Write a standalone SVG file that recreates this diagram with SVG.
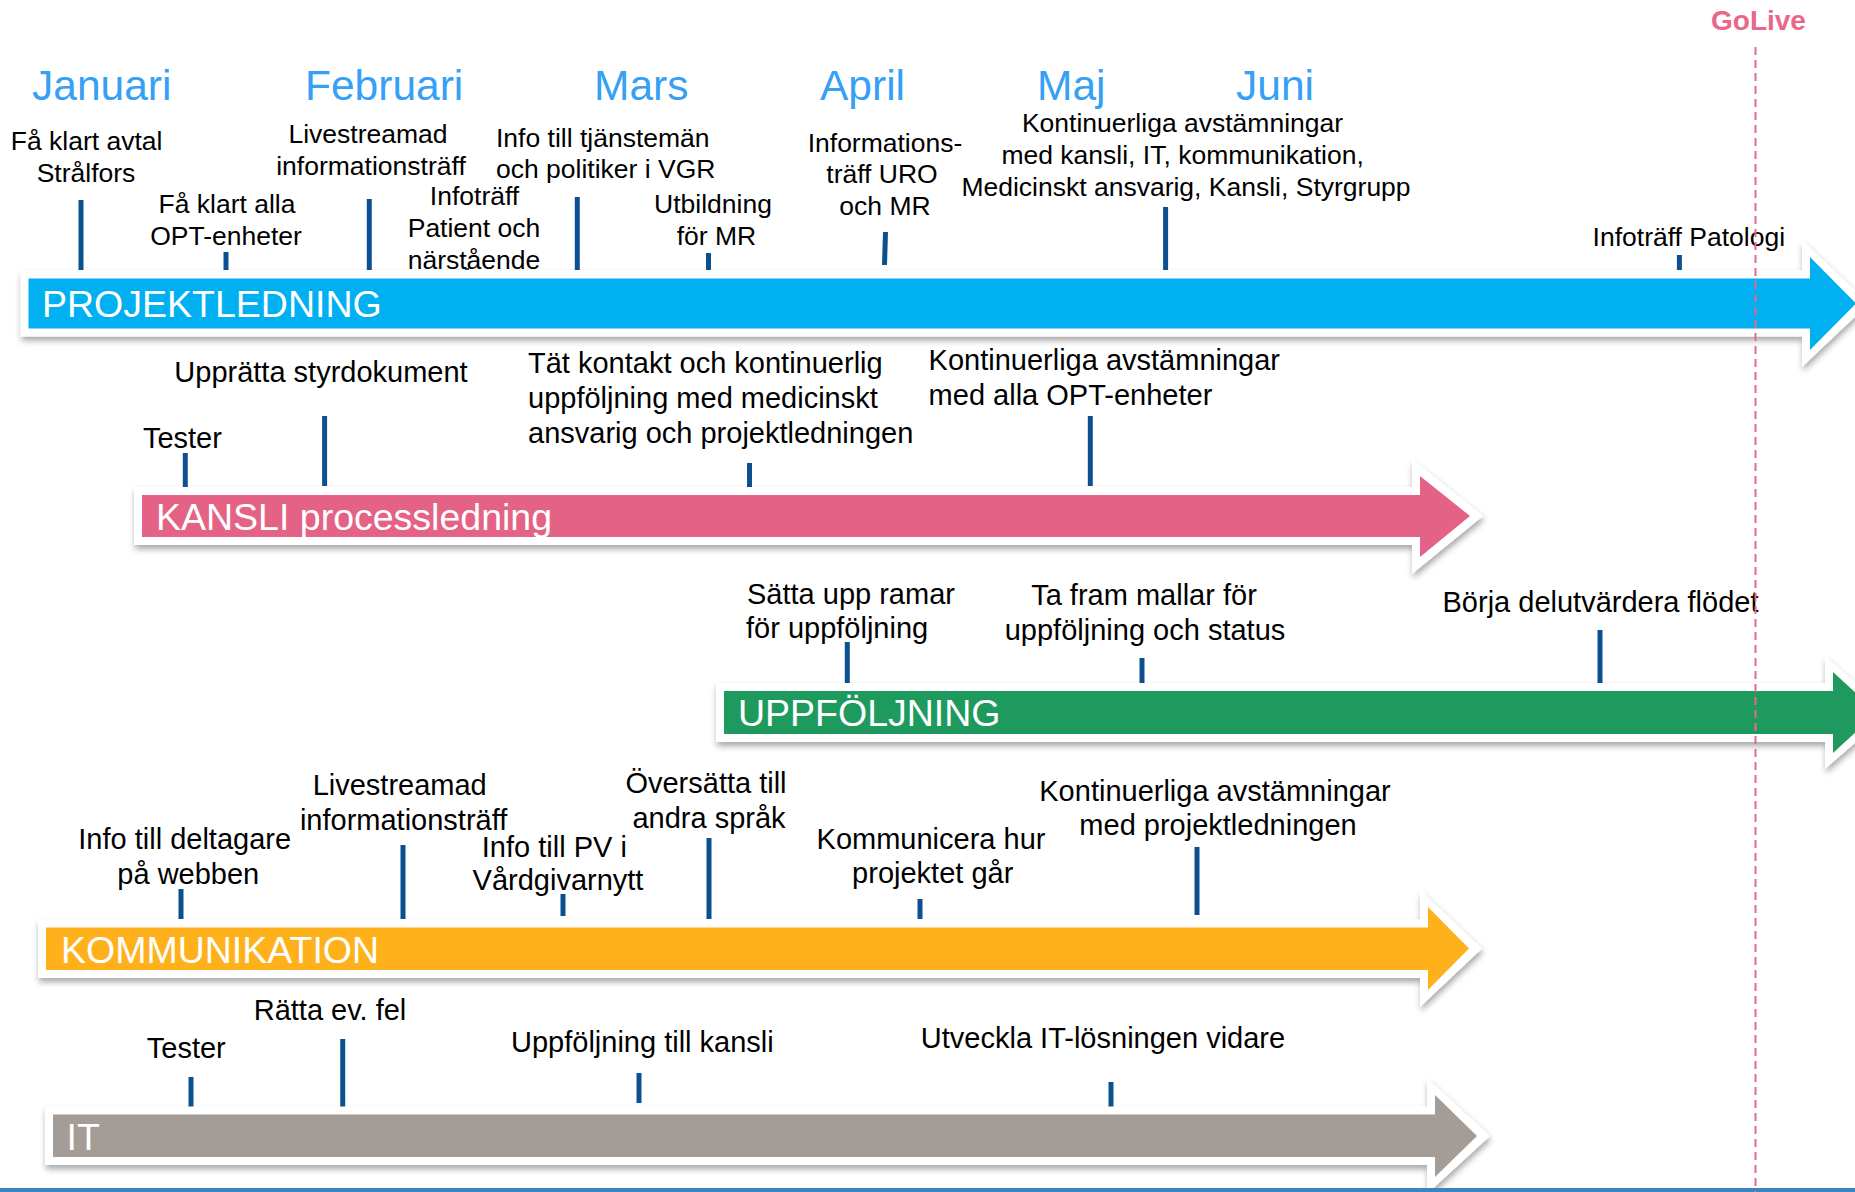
<svg xmlns="http://www.w3.org/2000/svg" width="1855" height="1192" viewBox="0 0 1855 1192">
<defs>
<style>
text{font-family:"Liberation Sans",Arial,sans-serif;fill:#000}
.s26{font-size:26.5px}
.s29{font-size:29px}
.c{text-anchor:middle}
.month{font-size:42.5px;fill:#36a0f5}
.bl{font-size:37.5px;fill:#fff}
.tick{stroke:#0d5091;stroke-width:5}
.outline{fill:#fff;filter:url(#sh)}
</style>
<filter id="sh" x="-5%" y="-30%" width="110%" height="170%">
<feDropShadow dx="1" dy="4" stdDeviation="3" flood-color="#000" flood-opacity="0.35"/>
</filter>
</defs>
<rect width="1855" height="1192" fill="#fff"/>

<g id="months">
<text class="month" x="32" y="100">Januari</text>
<text class="month" x="305" y="100">Februari</text>
<text class="month" x="594" y="100">Mars</text>
<text class="month" x="820" y="100">April</text>
<text class="month" x="1037" y="100">Maj</text>
<text class="month" x="1236" y="100">Juni</text>
</g>

<g id="connectors">
<line class="tick" x1="81" y1="200" x2="81" y2="270"/>
<line class="tick" x1="226" y1="252" x2="226" y2="270"/>
<line class="tick" x1="369.3" y1="199" x2="369.3" y2="270"/>
<line class="tick" x1="467" y1="268" x2="467" y2="270" style="stroke-width:4"/>
<line class="tick" x1="577.3" y1="197" x2="577.3" y2="270"/>
<line class="tick" x1="708.5" y1="253" x2="708.5" y2="270"/>
<line class="tick" x1="885.5" y1="232" x2="884.5" y2="265"/>
<line class="tick" x1="1165.6" y1="207" x2="1165.6" y2="270"/>
<line class="tick" x1="1679.4" y1="255" x2="1679.4" y2="270"/>
<line class="tick" x1="185.3" y1="453" x2="185.3" y2="487"/>
<line class="tick" x1="324.6" y1="416" x2="324.6" y2="486"/>
<line class="tick" x1="749.5" y1="463" x2="749.5" y2="487"/>
<line class="tick" x1="1090.3" y1="416" x2="1090.3" y2="486"/>
<line class="tick" x1="847.3" y1="642" x2="847.3" y2="683"/>
<line class="tick" x1="1142" y1="658" x2="1142" y2="683"/>
<line class="tick" x1="1600" y1="630" x2="1600" y2="683"/>
<line class="tick" x1="181" y1="889" x2="181" y2="919"/>
<line class="tick" x1="403" y1="845" x2="403" y2="919"/>
<line class="tick" x1="563" y1="894" x2="563" y2="916"/>
<line class="tick" x1="709" y1="838" x2="709" y2="919"/>
<line class="tick" x1="920" y1="899" x2="920" y2="919"/>
<line class="tick" x1="1197" y1="847" x2="1197" y2="915"/>
<line class="tick" x1="191" y1="1077" x2="191" y2="1107"/>
<line class="tick" x1="342.7" y1="1039" x2="342.7" y2="1107"/>
<line class="tick" x1="639" y1="1073" x2="639" y2="1103"/>
<line class="tick" x1="1111" y1="1082" x2="1111" y2="1107"/>
</g>

<g id="projektledning">
<path class="outline" d="M20.5,270.5 H1802 V240 L1869,303.5 L1802,367 V336.5 H20.5 Z"/>
<path fill="#00b0f0" d="M28.5,278.5 H1810 V257 L1856,303.5 L1810,350 V328.5 H28.5 Z"/>
<text class="bl" x="42" y="316.7">PROJEKTLEDNING</text>
</g>
<g id="kansli">
<path class="outline" d="M134,487 H1412 V459 L1483,516 L1412,574 V545 H134 Z"/>
<path fill="#e46285" d="M142,495 H1420 V476 L1470,516 L1420,557 V537 H142 Z"/>
<text class="bl" x="156" y="530">KANSLI processledning</text>
</g>
<g id="uppfoljning">
<path class="outline" d="M716,683 H1825 V656 L1890,712.5 L1825,769 V742 H716 Z"/>
<path fill="#1e9a5f" d="M724,691 H1833 V672 L1877,712.5 L1833,753 V734 H724 Z"/>
<text class="bl" x="738" y="726">UPPFÖLJNING</text>
</g>
<g id="kommunikation">
<path class="outline" d="M38,919.5 H1420 V890 L1482,948.5 L1420,1007 V978 H38 Z"/>
<path fill="#ffb11c" d="M46,927.5 H1428 V907 L1469,948.5 L1428,990 V970 H46 Z"/>
<text class="bl" x="61" y="962.7">KOMMUNIKATION</text>
</g>
<g id="it">
<path class="outline" d="M45,1106.5 H1427 V1078 L1490,1136 L1427,1194 V1165 H45 Z"/>
<path fill="#a49c96" d="M53,1114.5 H1435 V1095 L1477,1136 L1435,1177 V1157 H53 Z"/>
<text class="bl" x="66.5" y="1150">IT</text>
</g>

<g id="labels-projektledning">
<text class="s26 c" x="86.6" y="149.5">Få klart avtal</text>
<text class="s26 c" x="86" y="181.5">Strålfors</text>
<text class="s26 c" x="227" y="212.5">Få klart alla</text>
<text class="s26 c" x="226" y="244.5">OPT-enheter</text>
<text class="s26 c" x="368" y="142.5">Livestreamad</text>
<text class="s26 c" x="371" y="174.5">informationsträff</text>
<text class="s26 c" x="474.5" y="205">Infoträff</text>
<text class="s26 c" x="474" y="237">Patient och</text>
<text class="s26 c" x="474" y="269">närstående</text>
<text class="s26" x="496" y="147">Info till tjänstemän</text>
<text class="s26" x="496" y="178">och politiker i VGR</text>
<text class="s26 c" x="713" y="213">Utbildning</text>
<text class="s26 c" x="716.5" y="245">för MR</text>
<text class="s26 c" x="885" y="151.5">Informations-</text>
<text class="s26 c" x="882" y="183">träff URO</text>
<text class="s26 c" x="885" y="215">och MR</text>
<text class="s26 c" x="1182.5" y="132">Kontinuerliga avstämningar</text>
<text class="s26 c" x="1182.6" y="164">med kansli, IT, kommunikation,</text>
<text class="s26 c" x="1186" y="196">Medicinskt ansvarig, Kansli, Styrgrupp</text>
<text class="s26" x="1592.6" y="246">Infoträff Patologi</text>
</g>

<g id="labels-kansli">
<text class="s29 c" x="321" y="381.7">Upprätta styrdokument</text>
<text class="s29" x="142.9" y="448">Tester</text>
<text class="s29" x="528" y="373">Tät kontakt och kontinuerlig</text>
<text class="s29" x="528" y="408">uppföljning med medicinskt</text>
<text class="s29" x="528" y="443">ansvarig och projektledningen</text>
<text class="s29" x="928.6" y="370">Kontinuerliga avstämningar</text>
<text class="s29" x="928.6" y="405">med alla OPT-enheter</text>
</g>

<g id="labels-uppfoljning">
<text class="s29" x="747" y="604">Sätta upp ramar</text>
<text class="s29" x="746" y="638">för uppföljning</text>
<text class="s29 c" x="1144" y="605">Ta fram mallar för</text>
<text class="s29 c" x="1145" y="640">uppföljning och status</text>
<text class="s29" x="1442.5" y="612">Börja delutvärdera flödet</text>
</g>

<g id="labels-kommunikation">
<text class="s29 c" x="184.7" y="849">Info till deltagare</text>
<text class="s29 c" x="188.3" y="884">på webben</text>
<text class="s29 c" x="399.7" y="795">Livestreamad</text>
<text class="s29 c" x="403.6" y="829.5">informationsträff</text>
<text class="s29 c" x="554.3" y="857">Info till PV i</text>
<text class="s29 c" x="558" y="890">Vårdgivarnytt</text>
<text class="s29 c" x="706" y="793">Översätta till</text>
<text class="s29 c" x="709" y="828">andra språk</text>
<text class="s29 c" x="931" y="849">Kommunicera hur</text>
<text class="s29 c" x="932.7" y="882.5">projektet går</text>
<text class="s29 c" x="1215" y="800.5">Kontinuerliga avstämningar</text>
<text class="s29 c" x="1218" y="835">med projektledningen</text>
</g>

<g id="labels-it">
<text class="s29 c" x="330" y="1020">Rätta ev. fel</text>
<text class="s29 c" x="186.3" y="1058">Tester</text>
<text class="s29 c" x="642.4" y="1051.5">Uppföljning till kansli</text>
<text class="s29 c" x="1103" y="1048">Utveckla IT-lösningen vidare</text>
</g>

<rect id="bottom-strip" x="0" y="1188" width="1855" height="4" fill="#3a85bf"/>

<g id="golive">
<line x1="1755.5" y1="47" x2="1755.5" y2="1192" stroke="#e8678b" stroke-width="2" stroke-dasharray="8,5"/>
<text x="1758.5" y="29.6" text-anchor="middle" style="font-size:28px;font-weight:bold;fill:#e8678b">GoLive</text>
</g>
</svg>
